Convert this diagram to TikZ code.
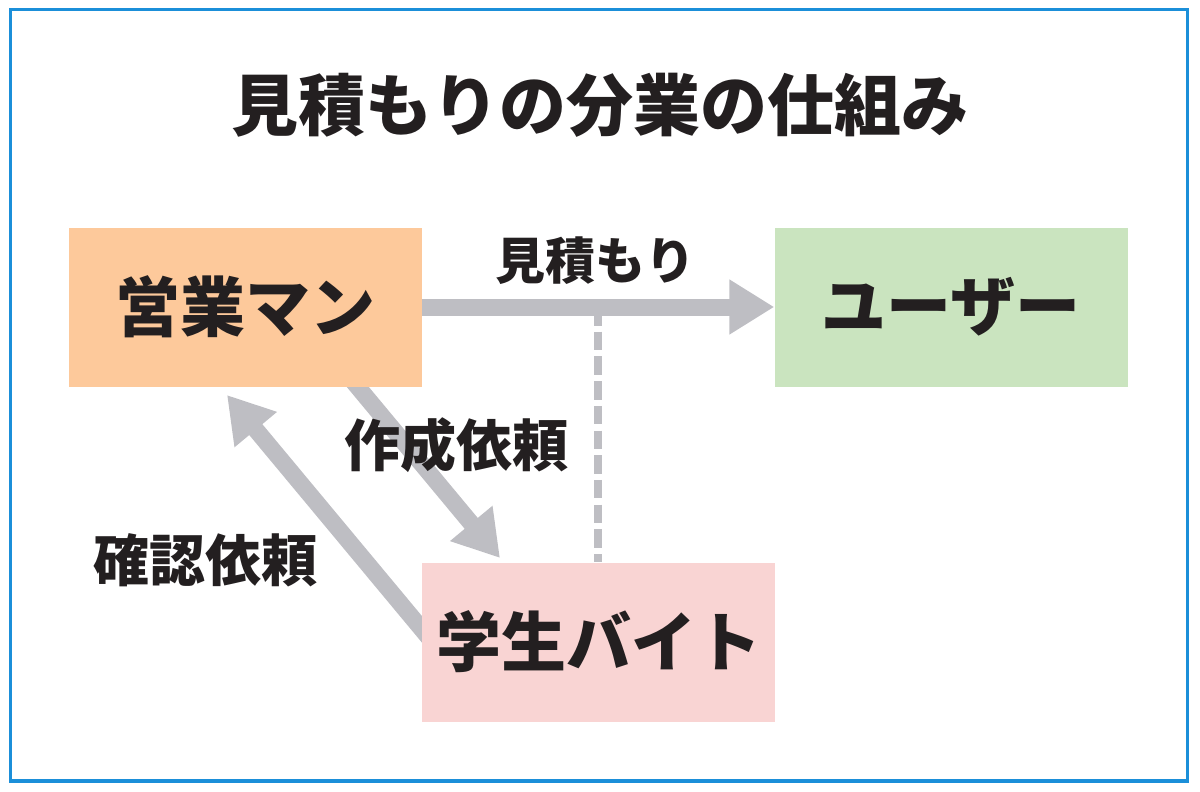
\documentclass[tikz,border=0pt]{standalone}
\usepackage{fontspec}
\setmainfont{Noto Sans CJK JP}
\usetikzlibrary{arrows.meta,backgrounds}
\definecolor{orangebox}{HTML}{FDC99B}
\definecolor{greenbox}{HTML}{CAE4BF}
\definecolor{pinkbox}{HTML}{F9D4D3}
\definecolor{arrowgray}{HTML}{BEBEC3}
\definecolor{frameblue}{HTML}{1B8FD9}
\definecolor{ink}{HTML}{231F20}
\tikzset{
  box/.style={inner sep=0pt, minimum width=353pt, minimum height=159pt, text=ink,
    font=\bfseries\fontsize{65}{70}\selectfont},
  lbl/.style={inner sep=0pt, text=ink, font=\bfseries\fontsize{50}{56}\selectfont},
  lblk/.style={lbl, font=\bfseries\fontsize{56}{62}\selectfont},
  bigarrow/.style={draw=arrowgray, line width=17pt,
    -{Triangle[length=45pt,width=52pt]}, arrowgray},
  dashline/.style={draw=arrowgray, line width=8pt, dash pattern=on 18.5pt off 6.2pt}
}
\begin{document}
\begin{tikzpicture}[x=1pt,y=-1pt]
\useasboundingbox (0,0) rectangle (1200,792);
\draw[frameblue, line width=3.5pt] (10.5,9.5) rectangle (1187.5,781);

\node[inner sep=0pt, text=ink, font=\bfseries\fontsize{67}{72}\selectfont] (title) at (600,105) {見積もりの分業の仕組み};

\node[box, fill=orangebox] (sales) at (245.5,307) {営業マン};
\node[box, fill=greenbox] (user) at (951,307) {ユーザー};
\node[box, fill=pinkbox] (student) at (598.5,642) {学生バイト};

\coordinate (dtop) at (598,307);
\coordinate (aStart) at (352,380);
\coordinate (aTip) at (500,558);
\coordinate (bStart) at (440,651);
\coordinate (bTip) at (227,395);

\begin{scope}[on background layer]
  \draw[dashline] (dtop) -- (dtop |- student.north);
  \draw[bigarrow] (aStart) -- (aTip);
  \draw[bigarrow] (bStart) -- (bTip);
\end{scope}
\draw[bigarrow] (sales.east) -- (user.west);

\node[lbl] (l1) at (595,261) {見積もり};
\node[lblk] (l2) at (456,445) {作成依頼};
\node[lblk] (l3) at (205,560) {確認依頼};
\end{tikzpicture}
\end{document}
